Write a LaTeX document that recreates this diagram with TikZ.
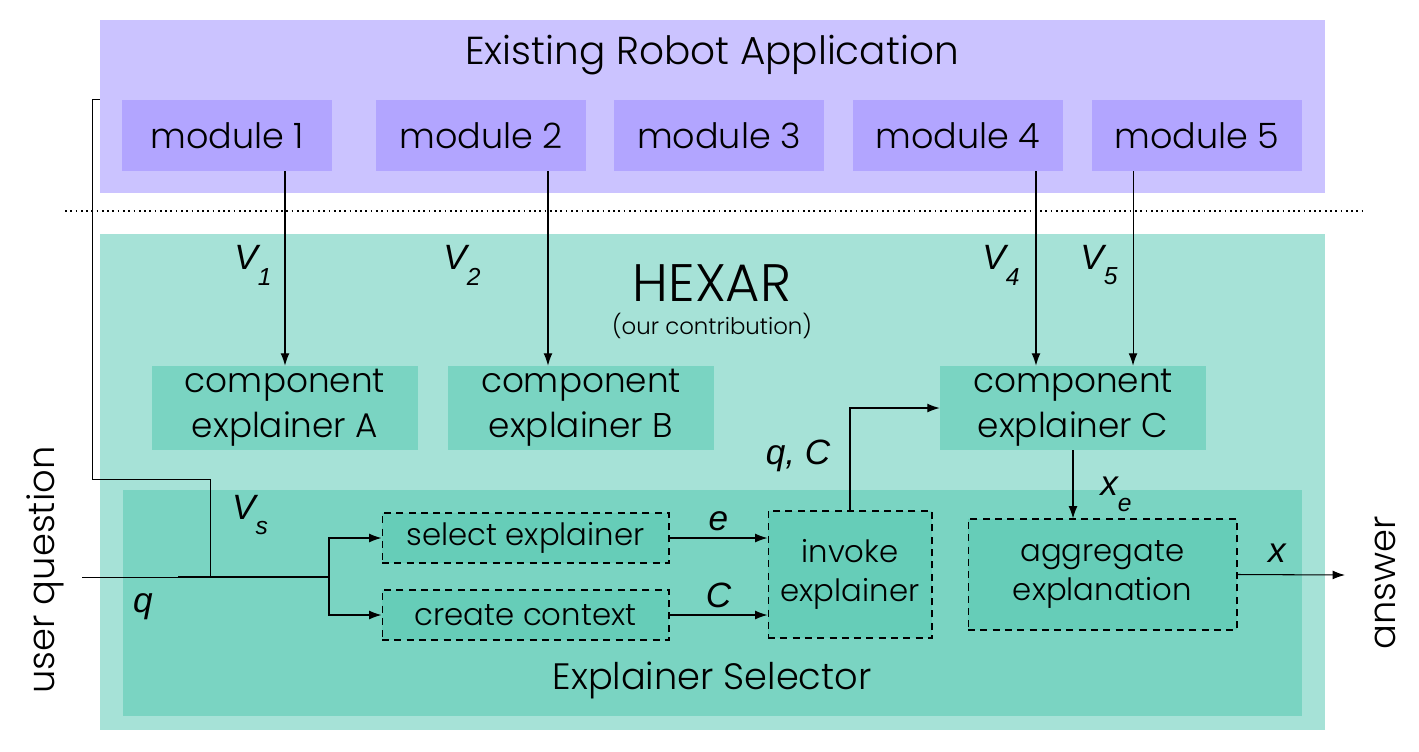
\documentclass[tikz,border=0pt]{standalone}
\usepackage{fontspec}
\setmainfont{Poppins Light}
\newfontfamily\lblfont{Liberation Sans}
\definecolor{robotbg}{RGB}{203,195,255}
\definecolor{modfill}{RGB}{178,165,255}
\definecolor{hexarbg}{RGB}{166,226,215}
\definecolor{explfill}{RGB}{122,212,194}
\definecolor{stepfill}{RGB}{102,205,184}
\usetikzlibrary{arrows.meta,positioning}
\newcommand{\sublbl}[2]{{\lblfont\itshape\fontsize{20}{22}\selectfont #1\raisebox{-0.45em}{\fontsize{14}{14}\selectfont #2}}}
\newcommand{\plainlbl}[1]{{\lblfont\itshape\fontsize{20}{22}\selectfont #1}}

\begin{document}
\begin{tikzpicture}[x=0.02cm, y=-0.02cm,
    modbox/.style={fill=modfill, minimum width=4.2cm, minimum height=1.42cm, inner sep=0pt, font=\fontsize{19.9}{22}\selectfont},
    explbox/.style={fill=explfill, minimum width=5.32cm, minimum height=1.68cm, inner sep=0pt, align=center, font=\fontsize{19.5}{25.5}\selectfont},
    stepbox/.style={draw, semithick, dash pattern=on 4pt off 3pt, fill=stepfill, inner sep=0pt, align=center, font=\fontsize{17.5}{22.5}\selectfont},
    flow/.style={-{Latex[length=7pt, width=5pt]}, semithick},
    lbl/.style={inner sep=0pt}
  ]
  \useasboundingbox (0,0) rectangle (1419,751);

  % Robot application layer
  \node[fill=robotbg, minimum width=24.5cm, minimum height=3.46cm, inner sep=0pt] (robot) at (712.5,106.5) {};
  \node[font=\fontsize{22.2}{26}\selectfont] (robottitle) at (712,55) {Existing Robot Application};
  \node[modbox] (mod1) at (227,135.5) {module 1};
  \node[modbox] (mod2) at (481,135.5) {module 2};
  \node[modbox] (mod3) at (719,135.5) {module 3};
  \node[modbox] (mod4) at (958,135.5) {module 4};
  \node[modbox] (mod5) at (1197,135.5) {module 5};

  % Separator
  \draw[dotted, line width=1pt] (65,211) -- (1362,211);

  % HEXAR layer
  \node[fill=hexarbg, minimum width=24.5cm, minimum height=9.92cm, inner sep=0pt] (hexar) at (712.5,482) {};
  \node[font=\fontsize{30}{33}\selectfont] (hexartitle) at (712,283) {HEXAR};
  \node[font=\fontsize{13}{15}\selectfont] (contrib) at (712,326) {(our contribution)};
  \node[explbox] (explA) at (285,408) {component\\explainer A};
  \node[explbox] (explB) at (581,408) {component\\explainer B};
  \node[explbox] (explC) at (1073,408) {component\\explainer C};

  % Explainer selector
  \node[fill=explfill, minimum width=23.58cm, minimum height=4.52cm, inner sep=0pt] (selector) at (712.5,603) {};
  \node[font=\fontsize{20.9}{24}\selectfont] (seltitle) at (712,680) {Explainer Selector};
  \node[stepbox, minimum width=5.74cm, minimum height=1cm] (selexp) at (525.5,538) {select explainer};
  \node[stepbox, minimum width=5.74cm, minimum height=1cm] (ctx) at (525.5,615) {create context};
  \node[stepbox, minimum width=3.28cm, minimum height=2.54cm] (invoke) at (850,574.5) {invoke\\explainer};
  \node[stepbox, minimum width=5.38cm, minimum height=2.22cm] (aggr) at (1102.5,574.5) {aggregate\\explanation};

  % Outer texts
  \node[rotate=90, font=\fontsize{21}{24}\selectfont] (question) at (45,570) {user question};
  \node[rotate=90, font=\fontsize{21}{24}\selectfont] (answer) at (1385,583) {answer};

  \coordinate (qin) at (82,577);
  \coordinate (qjoin) at (178,577);
  \coordinate (vsjoin) at (210,577);
  \coordinate (split) at (329,577);
  \coordinate (xout) at (1345,575);

  % Module outputs
  \draw[flow] (mod1.south -| explA.north) -- (explA.north);
  \draw[flow] ([xshift=1.34cm]mod2.south) -- ([xshift=1.34cm]mod2.south |- explB.north);
  \draw[flow] ([xshift=1.56cm]mod4.south) -- ([xshift=1.56cm]mod4.south |- explC.north);
  \draw[flow] ([xshift=-1.28cm]mod5.south) -- ([xshift=-1.28cm]mod5.south |- explC.north);
  \node[lbl] (v1) at (253,265) {\sublbl{V}{1}};
  \node[lbl] (v2) at (462,265) {\sublbl{V}{2}};
  \node[lbl] (v4) at (1001,265) {\sublbl{V}{4}};
  \node[lbl] (v5) at (1099,265) {\sublbl{V}{5}};

  % Question path
  \draw (robot.west |- mod1.north) -- ++(-7,0) |- (vsjoin |- 0,479) -- (vsjoin);
  \draw (qin) -- (qjoin);
  \draw[line width=1.3pt] (qjoin) -- (split);
  \draw[flow] (split) |- (selexp.west);
  \draw[flow] (split) |- (ctx.west);
  \node[lbl] (vs) at (250,515) {\sublbl{V}{s}};
  \node[lbl] (q) at (143,607) {\plainlbl{q}};

  % Selector internals
  \draw[flow] (selexp.east) -- (selexp.east -| invoke.west) node[midway, above=4pt, lbl] (e) {\plainlbl{e}};
  \draw[flow] (ctx.east) -- (ctx.east -| invoke.west) node[midway, above=4pt, lbl] (c) {\plainlbl{C}};
  \draw[flow] (invoke.north) |- (explC.west);
  \node[lbl] (qc) at (798,456) {\plainlbl{q, C}};
  \draw[flow] (explC.south) -- (explC.south |- aggr.north);
  \node[lbl] (xe) at (1116,494) {\sublbl{x}{e}};
  \draw[flow] (aggr.east) -- (xout);
  \node[lbl] (x) at (1277,553) {\plainlbl{x}};
\end{tikzpicture}
\end{document}
